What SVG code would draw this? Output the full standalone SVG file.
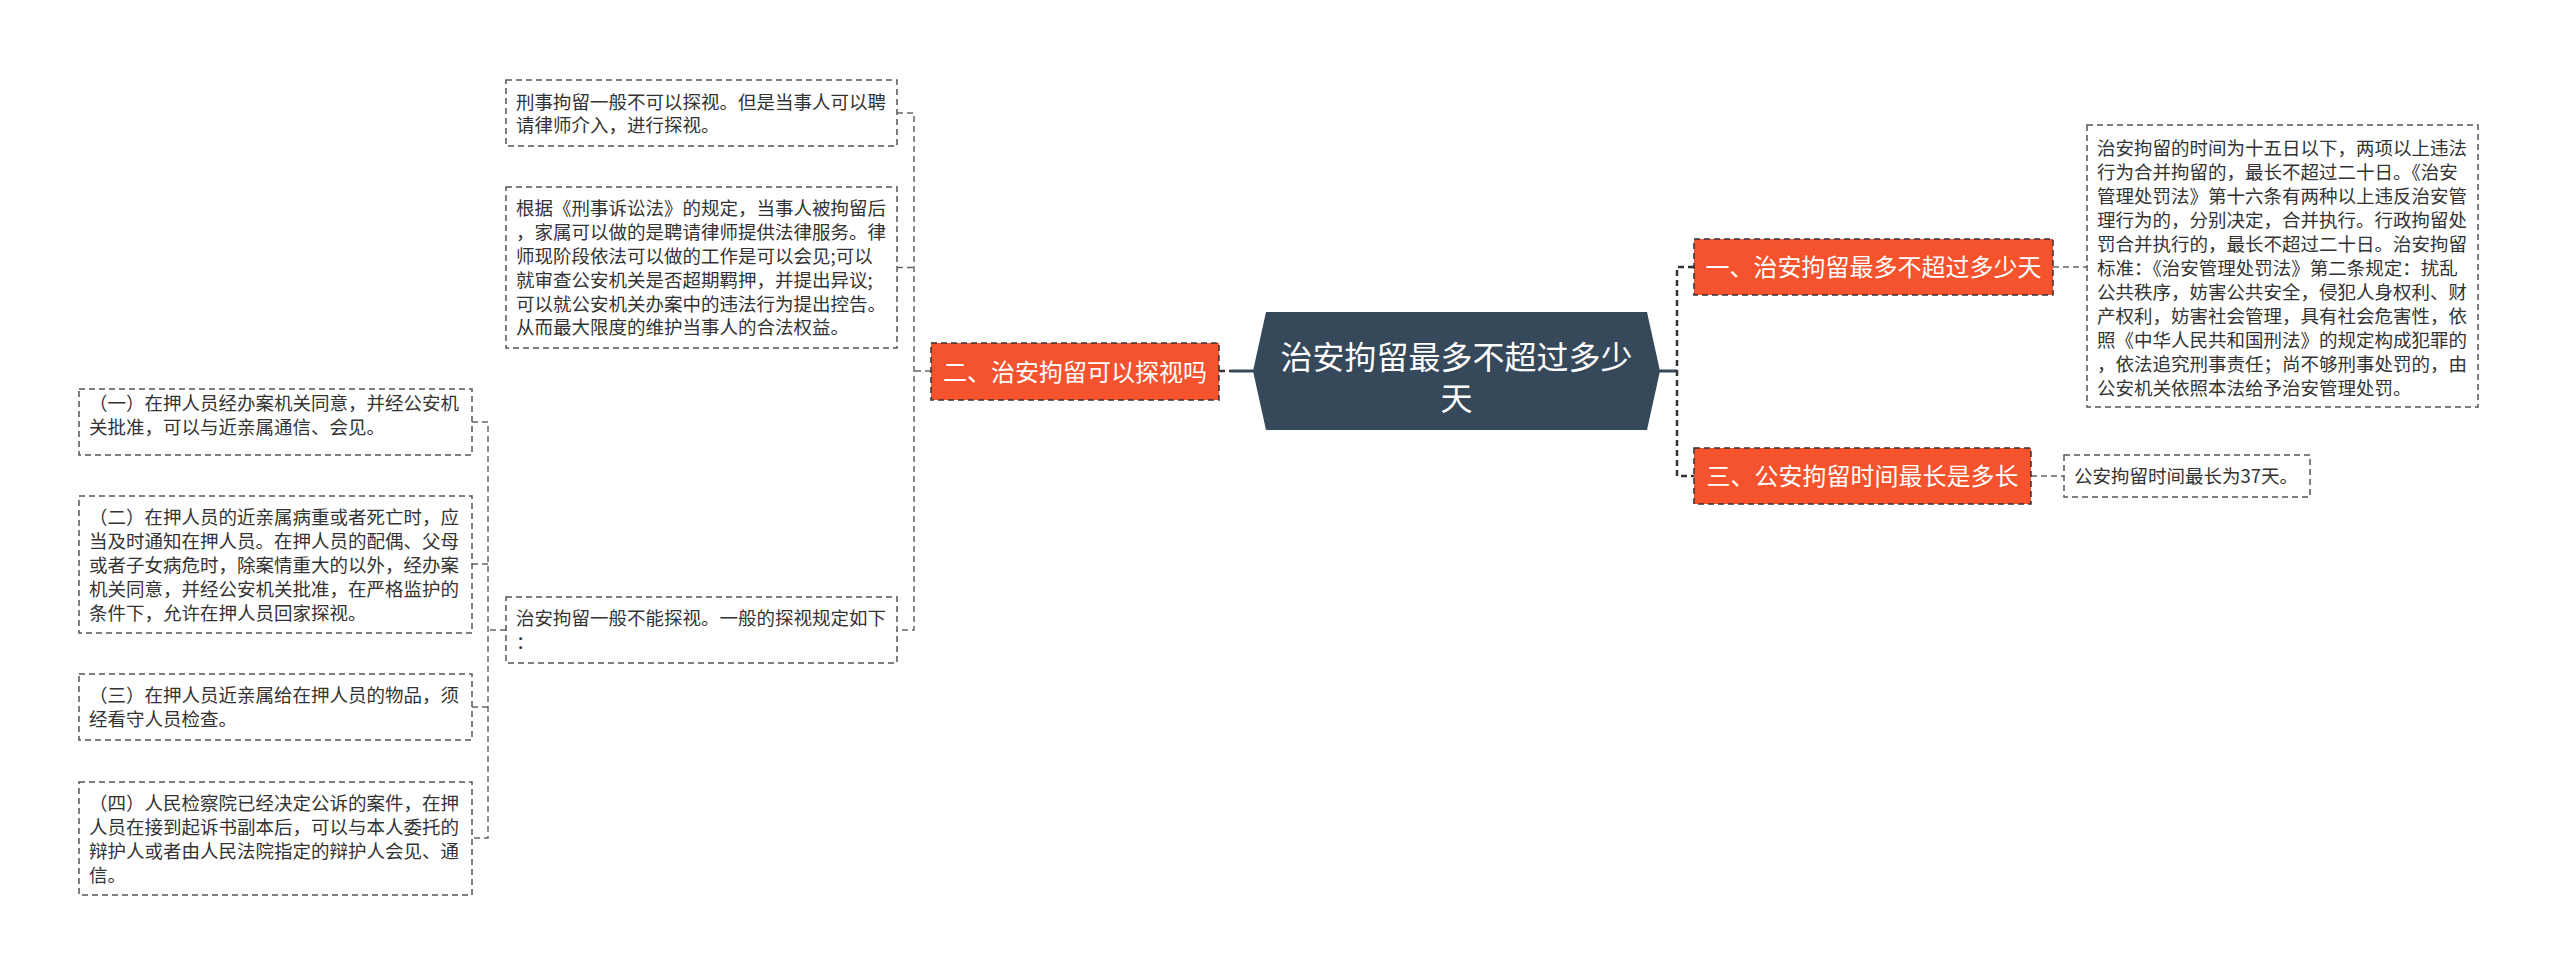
<svg xmlns="http://www.w3.org/2000/svg" width="2560" height="975" viewBox="0 0 2560 975">
<style>
.bg{fill:#ffffff}
.box{fill:#ffffff;stroke:#555555;stroke-width:1.5;stroke-dasharray:6 4}
.t{font-family:"Noto Sans CJK SC","Microsoft YaHei",sans-serif;font-size:18.5px;fill:#333333}
.org{fill:#f5532d;stroke:#333333;stroke-width:1.5;stroke-dasharray:6 4}
.ot{font-family:"Noto Sans CJK SC","Microsoft YaHei",sans-serif;font-size:24px;fill:#ffffff;text-anchor:middle}
.root{fill:#36495a}
.rt{font-family:"Noto Sans CJK SC","Microsoft YaHei",sans-serif;font-size:32px;fill:#ffffff;text-anchor:middle}
.c1{fill:none;stroke:#333333;stroke-width:2.5;stroke-dasharray:6 4}
.c1s{fill:none;stroke:#36495a;stroke-width:3}
.c2{fill:none;stroke:#666666;stroke-width:1.5;stroke-dasharray:6 4}
</style>
<rect class="bg" x="0" y="0" width="2560" height="975"/>
<g id="connectors">
  <line class="c1s" x1="1231" y1="371" x2="1254" y2="371"/>
  <line class="c1" x1="1219" y1="371" x2="1231" y2="371" stroke-dasharray="5 5"/>
  <line class="c1s" x1="1659" y1="371" x2="1677" y2="371"/>
  <path class="c1" d="M1694,267 H1677 V476 H1694"/>
  <path class="c2" d="M931,371 H914"/>
  <path class="c2" d="M897,113 H914 V630 H897"/>
  <path class="c2" d="M897,267.5 H914"/>
  <path class="c2" d="M506,630 H488"/>
  <path class="c2" d="M472,422 H488 V838 H472"/>
  <path class="c2" d="M472,564 H488"/>
  <path class="c2" d="M472,707 H488"/>
  <path class="c2" d="M2053,267 H2087"/>
  <path class="c2" d="M2031,476 H2064"/>
</g>
<g id="root">
  <polygon class="root" points="1266,312 1647,312 1660,371 1647,430 1266,430 1253,371"/>
  <text class="rt" x="1456.5" y="369">治安拘留最多不超过多少</text>
  <text class="rt" x="1456.5" y="410">天</text>
</g>
<g id="n2">
  <rect class="org" x="931" y="343" width="288" height="57"/>
  <text class="ot" x="1075" y="380.5">二、治安拘留可以探视吗</text>
</g>
<g id="n1">
  <rect class="org" x="1694" y="239" width="359" height="56"/>
  <text class="ot" x="1873.5" y="276">一、治安拘留最多不超过多少天</text>
</g>
<g id="n3">
  <rect class="org" x="1694" y="448" width="337" height="56"/>
  <text class="ot" x="1862.5" y="485">三、公安拘留时间最长是多长</text>
</g>
<g id="boxA">
  <rect class="box" x="506" y="80" width="391" height="66"/>
  <text class="t" x="516" y="108.5">刑事拘留一般不可以探视。但是当事人可以聘</text>
  <text class="t" x="516" y="132.3">请律师介入，进行探视。</text>
</g>
<g id="boxB">
  <rect class="box" x="506" y="187" width="391" height="161"/>
  <text class="t" x="516" y="215.4">根据《刑事诉讼法》的规定，当事人被拘留后</text>
  <text class="t" x="516" y="239.2">，家属可以做的是聘请律师提供法律服务。律</text>
  <text class="t" x="516" y="263">师现阶段依法可以做的工作是可以会见;可以</text>
  <text class="t" x="516" y="286.8">就审查公安机关是否超期羁押，并提出异议;</text>
  <text class="t" x="516" y="310.6">可以就公安机关办案中的违法行为提出控告。</text>
  <text class="t" x="516" y="334.4">从而最大限度的维护当事人的合法权益。</text>
</g>
<g id="boxC">
  <rect class="box" x="506" y="597" width="391" height="66"/>
  <text class="t" x="516" y="625.4">治安拘留一般不能探视。一般的探视规定如下</text>
  <text class="t" x="516" y="649.2">：</text>
</g>
<g id="f1">
  <rect class="box" x="79" y="389" width="393" height="66"/>
  <text class="t" x="89" y="410.4">（一）在押人员经办案机关同意，并经公安机</text>
  <text class="t" x="89" y="434.2">关批准，可以与近亲属通信、会见。</text>
</g>
<g id="f2">
  <rect class="box" x="79" y="496" width="393" height="137"/>
  <text class="t" x="89" y="524.4">（二）在押人员的近亲属病重或者死亡时，应</text>
  <text class="t" x="89" y="548.2">当及时通知在押人员。在押人员的配偶、父母</text>
  <text class="t" x="89" y="572">或者子女病危时，除案情重大的以外，经办案</text>
  <text class="t" x="89" y="595.8">机关同意，并经公安机关批准，在严格监护的</text>
  <text class="t" x="89" y="619.6">条件下，允许在押人员回家探视。</text>
</g>
<g id="f3">
  <rect class="box" x="79" y="674" width="393" height="66"/>
  <text class="t" x="89" y="702.4">（三）在押人员近亲属给在押人员的物品，须</text>
  <text class="t" x="89" y="726.2">经看守人员检查。</text>
</g>
<g id="f4">
  <rect class="box" x="79" y="782" width="393" height="113"/>
  <text class="t" x="89" y="810.4">（四）人民检察院已经决定公诉的案件，在押</text>
  <text class="t" x="89" y="834.2">人员在接到起诉书副本后，可以与本人委托的</text>
  <text class="t" x="89" y="858">辩护人或者由人民法院指定的辩护人会见、通</text>
  <text class="t" x="89" y="881.8">信。</text>
</g>
<g id="boxD">
  <rect class="box" x="2087" y="125" width="391" height="282"/>
  <text class="t" x="2097" y="155">治安拘留的时间为十五日以下，两项以上违法</text>
  <text class="t" x="2097" y="179">行为合并拘留的，最长不超过二十日。《治安</text>
  <text class="t" x="2097" y="203">管理处罚法》第十六条有两种以上违反治安管</text>
  <text class="t" x="2097" y="227">理行为的，分别决定，合并执行。行政拘留处</text>
  <text class="t" x="2097" y="251">罚合并执行的，最长不超过二十日。治安拘留</text>
  <text class="t" x="2097" y="275">标准：《治安管理处罚法》第二条规定：扰乱</text>
  <text class="t" x="2097" y="299">公共秩序，妨害公共安全，侵犯人身权利、财</text>
  <text class="t" x="2097" y="323">产权利，妨害社会管理，具有社会危害性，依</text>
  <text class="t" x="2097" y="347">照《中华人民共和国刑法》的规定构成犯罪的</text>
  <text class="t" x="2097" y="371">，依法追究刑事责任；尚不够刑事处罚的，由</text>
  <text class="t" x="2097" y="395">公安机关依照本法给予治安管理处罚。</text>
</g>
<g id="boxE">
  <rect class="box" x="2064" y="455" width="246" height="42"/>
  <text class="t" x="2074" y="483">公安拘留时间最长为37天。</text>
</g>
</svg>
